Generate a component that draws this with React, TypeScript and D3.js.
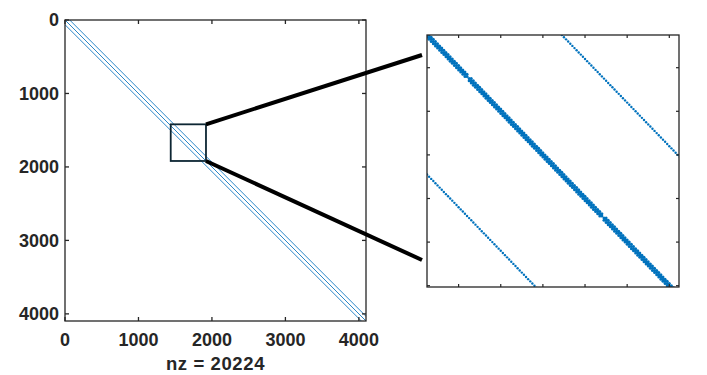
import React from 'react';
import * as d3 from 'd3';

// sparsity pattern of a 2-D Laplacian on a 64 x 64 grid
const matrixSize = 4096;
const blockSize = 64;
const diagOffsets = [-64, -1, 0, 1, 64];
const nzLabel = 'nz = 20224';

const mainTicks = [0, 1000, 2000, 3000, 4000];
const zoomBox = { x: [1439, 1919], y: [1420, 1919] };
const insetX = [1645, 1764.6];
const insetY = [1645, 1760.6];
const insetTicks = [1660, 1680, 1700, 1720, 1740, 1760];

const blue = '#0072BD';
const axisColor = '#262626';
const font = '"Liberation Sans", Arial, sans-serif';

function isStored(r: number, c: number, d: number) {
  if (r < 1 || c < 1 || r > matrixSize || c > matrixSize) return false;
  if (Math.abs(d) === 1 && Math.min(r, c) % blockSize === 0) return false;
  return true;
}

export default function App() {
  const main = { left: 65, top: 20, size: 301 };
  const x = d3.scaleLinear().domain([0, matrixSize + 1]).range([main.left, main.left + main.size]);
  const y = d3.scaleLinear().domain([0, matrixSize + 1]).range([main.top, main.top + main.size]);

  const inset = { left: 427, top: 35, size: 252 };
  const ix = d3.scaleLinear().domain(insetX).range([inset.left, inset.left + inset.size]);
  const iy = d3.scaleLinear().domain(insetY).range([inset.top, inset.top + inset.size]);

  // diagonal segments for the overview
  const segments = diagOffsets.map(d => ({
    d,
    c0: Math.max(1, 1 + d), r0: Math.max(1, 1 - d),
    c1: Math.min(matrixSize, matrixSize + d), r1: Math.min(matrixSize, matrixSize - d),
  }));

  // individual nonzeros inside the zoom window
  const dots: { r: number; c: number; d: number }[] = [];
  const rStart = Math.floor(insetY[0]) - 2, rEnd = Math.ceil(insetY[1]) + 2;
  diagOffsets.forEach(d => {
    for (let r = rStart; r <= rEnd; r++) {
      const c = r + d;
      if (c < insetX[0] - 2 || c > insetX[1] + 2) continue;
      if (isStored(r, c, d)) dots.push({ r, c, d });
    }
  });

  const tl = 4;
  const bx0 = x(zoomBox.x[0]), bx1 = x(zoomBox.x[1]);
  const by0 = y(zoomBox.y[0]), by1 = y(zoomBox.y[1]);

  return (
    <svg width={707} height={375} style={{ position: 'absolute', left: 0, top: 0, background: '#fff' }}
      fontFamily={font} fontWeight="bold">
      <defs>
        <clipPath id="mainClip"><rect x={main.left} y={main.top} width={main.size} height={main.size} /></clipPath>
        <clipPath id="insetClip"><rect x={inset.left} y={inset.top} width={inset.size} height={inset.size} /></clipPath>
      </defs>

      {/* overview spy */}
      <g clipPath="url(#mainClip)">
        {segments.filter(s => Math.abs(s.d) !== 1).map(s => (
          <line key={s.d} x1={x(s.c0)} y1={y(s.r0)} x2={x(s.c1)} y2={y(s.r1)}
            stroke="#2b87c9" strokeWidth={1} />
        ))}
      </g>
      <rect x={main.left} y={main.top} width={main.size} height={main.size}
        fill="none" stroke={axisColor} strokeWidth={1.3} />
      {mainTicks.map(t => (
        <g key={t}>
          <line x1={x(t)} x2={x(t)} y1={main.top} y2={main.top + tl} stroke={axisColor} strokeWidth={1.3} />
          <line x1={x(t)} x2={x(t)} y1={main.top + main.size} y2={main.top + main.size - tl} stroke={axisColor} strokeWidth={1.3} />
          <line y1={y(t)} y2={y(t)} x1={main.left} x2={main.left + tl} stroke={axisColor} strokeWidth={1.3} />
          <line y1={y(t)} y2={y(t)} x1={main.left + main.size} x2={main.left + main.size - tl} stroke={axisColor} strokeWidth={1.3} />
          <text x={x(t)} y={346} textAnchor="middle" fontSize={18} fill={axisColor}>{t}</text>
          <text x={main.left - 6} y={y(t)} dy="0.36em" textAnchor="end" fontSize={18} fill={axisColor}>{t}</text>
        </g>
      ))}
      <text x={main.left + main.size / 2} y={370} textAnchor="middle" fontSize={18.5}
        letterSpacing={0.6} fill={axisColor}>{nzLabel}</text>

      {/* zoom box and connectors */}
      <rect x={bx0} y={by0} width={bx1 - bx0} height={by1 - by0} fill="none" stroke="#0d2633" strokeWidth={1.8} />
      <line x1={bx1} y1={by0} x2={422} y2={55} stroke="#000" strokeWidth={4} />
      <line x1={bx1} y1={by1} x2={422} y2={260} stroke="#000" strokeWidth={4} />

      {/* inset spy */}
      <g clipPath="url(#insetClip)">
        {dots.map(p => (
          <circle key={`${p.r}-${p.c}`} cx={ix(p.c)} cy={iy(p.r)} r={Math.abs(p.d) === 64 ? 1.2 : 1.5} fill={blue} />
        ))}
      </g>
      <rect x={inset.left} y={inset.top} width={inset.size} height={inset.size}
        fill="none" stroke={axisColor} strokeWidth={1.3} />
      {insetTicks.map(t => (
        <g key={t}>
          <line x1={ix(t)} x2={ix(t)} y1={inset.top} y2={inset.top + 3} stroke={axisColor} strokeWidth={1.2} />
          <line x1={ix(t)} x2={ix(t)} y1={inset.top + inset.size} y2={inset.top + inset.size - 3} stroke={axisColor} strokeWidth={1.2} />
          <line y1={iy(t)} y2={iy(t)} x1={inset.left} x2={inset.left + 3} stroke={axisColor} strokeWidth={1.2} />
          <line y1={iy(t)} y2={iy(t)} x1={inset.left + inset.size} x2={inset.left + inset.size - 3} stroke={axisColor} strokeWidth={1.2} />
        </g>
      ))}
    </svg>
  );
}
